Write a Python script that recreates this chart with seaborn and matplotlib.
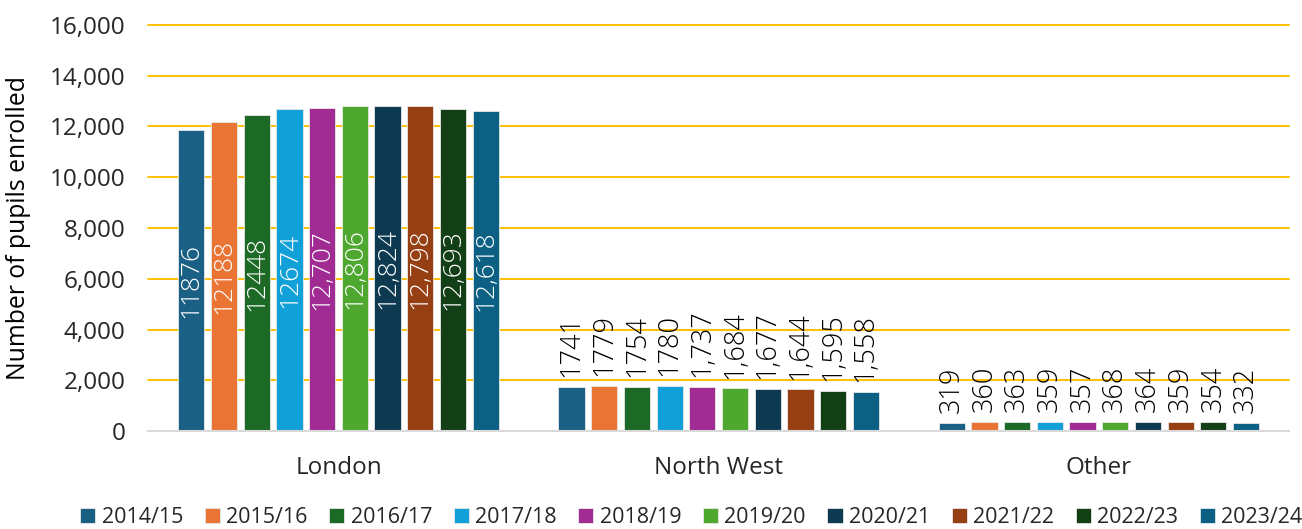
import matplotlib
matplotlib.use("Agg")
import matplotlib.pyplot as plt
import seaborn as sns
import pandas as pd

regions = ["London", "North West", "Other"]
years = ["2014/15", "2015/16", "2016/17", "2017/18", "2018/19",
         "2019/20", "2020/21", "2021/22", "2022/23", "2023/24"]
london = [11876, 12188, 12448, 12674, 12707, 12806, 12824, 12798, 12693, 12618]
north_west = [1741, 1779, 1754, 1780, 1737, 1684, 1677, 1644, 1595, 1558]
other = [319, 360, 363, 359, 357, 368, 364, 359, 354, 332]
london_labels = ["11876", "12188", "12448", "12674", "12,707", "12,806", "12,824", "12,798", "12,693", "12,618"]
nw_labels = ["1741", "1779", "1754", "1780", "1,737", "1,684", "1,677", "1,644", "1,595", "1,558"]
other_labels = ["319", "360", "363", "359", "357", "368", "364", "359", "354", "332"]
yticks = [0, 2000, 4000, 6000, 8000, 10000, 12000, 14000, 16000]
colors = ["#1A5F84", "#E97434", "#1D6A27", "#12A0D8", "#A02B93",
          "#4EA72E", "#0E3A51", "#963F13", "#133F17", "#0B6083"]

rows = []
for i, y in enumerate(years):
    rows.append({"region": "London", "year": y, "value": london[i]})
    rows.append({"region": "North West", "year": y, "value": north_west[i]})
    rows.append({"region": "Other", "year": y, "value": other[i]})
df = pd.DataFrame(rows)

sns.set_theme(style="white")
plt.rcParams["font.family"] = ["Open Sans", "DejaVu Sans"]

fig = plt.figure(figsize=(13.02, 5.29), dpi=100)
ax = fig.add_axes([0.114, 0.185, 0.876, 0.768])

sns.barplot(data=df, x="region", y="value", hue="year", order=regions,
            hue_order=years, palette=colors, saturation=1, width=0.86, gap=0.2,
            edgecolor="#E8E8E8", linewidth=0.6, ax=ax, legend=True, zorder=3)

ax.set_ylim(0, 16000)
ax.set_xlim(-0.5, 2.5)
ax.set_yticks(yticks)
ax.set_yticklabels([f"{v:,}" for v in yticks], fontsize=17.5, color="#262626")
ax.tick_params(axis="x", labelsize=17.5, length=0, pad=18, colors="#262626")
ax.tick_params(axis="y", length=0, pad=16.5)
ax.set_xlabel("")
ax.set_ylabel("Number of pupils enrolled", fontsize=17.8, color="black")
ax.yaxis.set_label_coords(-0.103, 0.5)
ax.yaxis.grid(True, color="#FFC000", linewidth=1.4, zorder=0)
for gl in ax.yaxis.get_gridlines():
    gl.set_clip_on(False)
ax.set_axisbelow(True)
for s in ["top", "right", "left"]:
    ax.spines[s].set_visible(False)
ax.spines["bottom"].set_color("#D9D9D9")
ax.spines["bottom"].set_linewidth(1.5)
ax.spines["bottom"].set_zorder(4)

for i, cont in enumerate(ax.containers):
    for j, bar in enumerate(cont):
        labs = [london_labels, nw_labels, other_labels][j]
        val = [london, north_west, other][j][i]
        x = bar.get_x() + bar.get_width() / 2
        if j == 0:
            ax.text(x, val / 2, labs[i], rotation=90, ha="center", va="center",
                    color="white", fontsize=19, fontweight="light", zorder=5)
        else:
            ax.annotate(labs[i], (x, val), xytext=(0, 7), textcoords="offset points",
                        rotation=90, ha="center", va="bottom", color="black",
                        fontsize=19.5, fontweight="light", zorder=5)

handles, lbls = ax.get_legend_handles_labels()
ax.legend_.remove()
fig.legend(handles, lbls, loc="lower center", bbox_to_anchor=(0.531, -0.035), ncol=10,
           frameon=False, fontsize=15.5, handlelength=0.7, handleheight=0.7,
           handletextpad=0.3, columnspacing=1.0, labelcolor="#262626")

fig.savefig("out.png", dpi=100)
